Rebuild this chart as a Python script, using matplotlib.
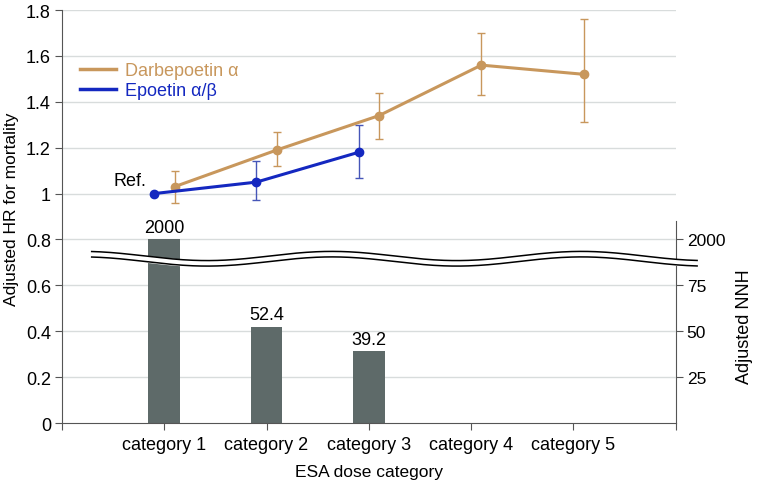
import numpy as np
import matplotlib.pyplot as plt
from matplotlib.lines import Line2D

categories = ['category 1', 'category 2', 'category 3', 'category 4', 'category 5']

darbe_hr = [1.03, 1.19, 1.34, 1.56, 1.52]
darbe_lo = [0.96, 1.12, 1.24, 1.43, 1.31]
darbe_hi = [1.10, 1.27, 1.44, 1.70, 1.76]

epo_hr = [1.00, 1.05, 1.18]
epo_lo = [1.00, 0.97, 1.07]
epo_hi = [1.00, 1.14, 1.30]

nnh = [2000, 52.4, 39.2]
nnh_labels = ['2000', '52.4', '39.2']

plt.rcParams['font.family'] = ['Liberation Sans', 'DejaVu Sans']
tan = '#c8975c'
blue = '#1428c0'
blue_err = '#4656b8'
bar_col = '#5e6a69'
ax_col = '#555555'

# right axis: 25 NNH per 0.2 HR, broken above 100 (shown as 2000)
scale = 125.0

fig = plt.figure(figsize=(7.6, 4.81), dpi=100)
ax = fig.add_axes([0.0816, 0.1185, 0.8074, 0.8585])
ax2 = ax.twinx()
ax.set_zorder(ax2.get_zorder() + 1)
ax.patch.set_visible(False)

x = np.arange(1, 6)

# gridlines
for g in np.arange(0.2, 1.81, 0.2):
    ax.axhline(g, color='#d8dcdc', lw=1, zorder=0)

# bars
heights = [min(v, 100) / scale for v in nnh]
ax.bar(x[:3], heights, width=0.31, color=bar_col, zorder=2)
for xi, h, lab in zip(x[:3], heights, nnh_labels):
    ax.text(xi, h + 0.015, lab, ha='center', va='bottom', fontsize=13)

ax2.set_ylim(0, 1.8 * scale)
ax2.set_yticks([25, 50, 75, 100])
ax2.set_yticklabels(['25', '50', '75', '2000'], fontsize=12.5)
ax2.set_ylabel('Adjusted NNH', fontsize=13)
ax2.yaxis.set_label_coords(1.098, 0.235)
for s in ['top', 'left', 'bottom']:
    ax2.spines[s].set_visible(False)
ax2.spines['right'].set_bounds(0, 110)
ax2.spines['right'].set_color(ax_col)
ax2.tick_params(axis='y', colors=ax_col, labelcolor='black', length=5, pad=3)

# break line
xb = np.linspace(0.29, 6.21, 300)
top = 0.728 + 0.02 * np.cos(2 * np.pi * (xb - 2.64) / 2.44)
bot = top - 0.024
ax.fill_between(xb, bot, top, color='white', zorder=3, clip_on=False)
ax.plot(xb, top, color='black', lw=1.1, zorder=4, clip_on=False)
ax.plot(xb, bot, color='black', lw=1.1, zorder=4, clip_on=False)

# HR lines
xd = x + 0.1
ax.errorbar(xd, darbe_hr,
            yerr=[np.array(darbe_hr) - darbe_lo, np.array(darbe_hi) - darbe_hr],
            fmt='none', ecolor=tan, elinewidth=1, capsize=3, zorder=5)
ax.plot(xd, darbe_hr, color=tan, lw=2.2, marker='o', ms=6, zorder=6)
xe = x[:3] - 0.1
ax.errorbar(xe[1:], epo_hr[1:],
            yerr=[np.array(epo_hr[1:]) - epo_lo[1:], np.array(epo_hi[1:]) - epo_hr[1:]],
            fmt='none', ecolor=blue_err, elinewidth=1, capsize=3, zorder=5)
ax.plot(xe, epo_hr, color=blue, lw=2.2, marker='o', ms=6, zorder=7)
ax.text(xe[0] - 0.08, epo_hr[0] + 0.02, 'Ref.', ha='right', va='bottom', fontsize=13)

handles = [Line2D([], [], color=tan, lw=2.5), Line2D([], [], color=blue, lw=2.5)]
leg = ax.legend(handles, ['Darbepoetin \u03b1', 'Epoetin \u03b1/\u03b2'],
                loc='upper left', bbox_to_anchor=(0.015, 0.895), frameon=False,
                fontsize=13, handlelength=2.0, handletextpad=0.5, labelspacing=0.15,
                borderpad=0)
for t, c in zip(leg.get_texts(), [tan, blue]):
    t.set_color(c)

ax.set_xlim(0, 6)
ax.set_ylim(0, 1.8)
ax.set_xticks(range(0, 7))
ax.set_xticklabels([''] + categories + [''], fontsize=13)
ax.set_yticks(np.arange(0, 1.81, 0.2))
ax.set_yticklabels(['0', '0.2', '0.4', '0.6', '0.8', '1', '1.2', '1.4', '1.6', '1.8'],
                   fontsize=13)
ax.tick_params(axis='both', colors=ax_col, labelcolor='black', length=5)
ax.tick_params(axis='x', pad=4)
ax.tick_params(axis='y', pad=3)
ax.set_xlabel('ESA dose category', fontsize=12.5, labelpad=8)
ax.set_ylabel('Adjusted HR for mortality', fontsize=12.5)
ax.yaxis.set_label_coords(-0.07, 0.52)
for s in ['top', 'right']:
    ax.spines[s].set_visible(False)
for s in ['left', 'bottom']:
    ax.spines[s].set_color(ax_col)

fig.savefig('out.png', dpi=100)
